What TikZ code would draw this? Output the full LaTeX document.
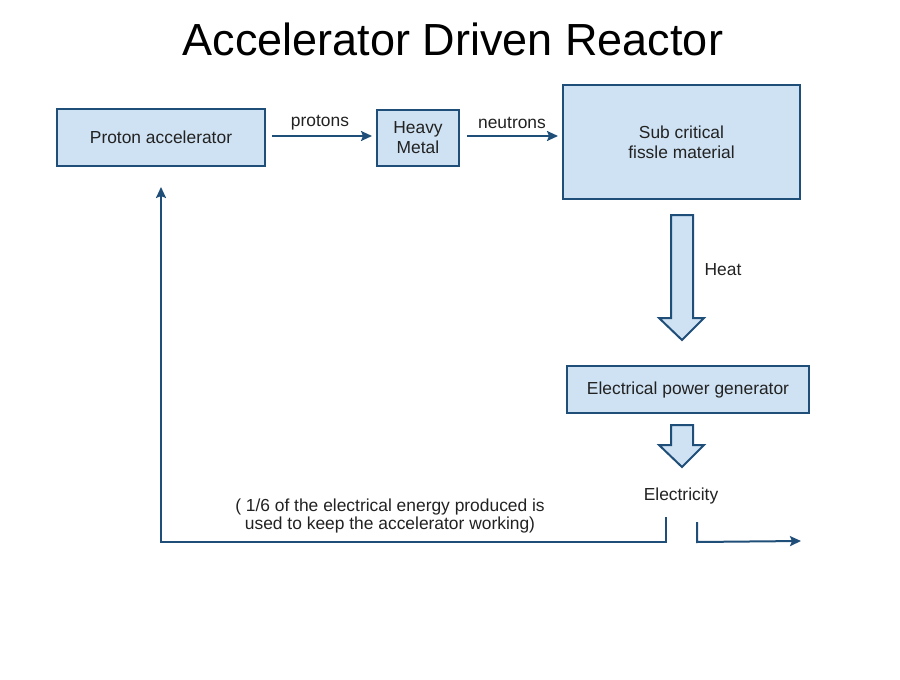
\documentclass[tikz,border=0pt]{standalone}
\usepackage{fontspec}
\setmainfont{Liberation Sans}
\usetikzlibrary{arrows.meta}
\definecolor{boxfill}{HTML}{CFE2F3}
\definecolor{boxline}{HTML}{1F4E79}
\definecolor{txt}{HTML}{222222}
\tikzset{
  box/.style={draw=boxline, fill=boxfill, line width=2pt, rectangle, inner sep=0pt, align=center, text=txt, font=\fontsize{17.4}{20}\selectfont},
  lbl/.style={text=txt, font=\fontsize{17.4}{18}\selectfont, align=center, inner sep=0pt},
  conn/.style={draw=boxline, line width=2pt, -{Stealth[length=11pt,width=10pt,inset=2pt]}},
  blockarrow/.style={draw=boxline, fill=boxfill, line width=2pt, line join=miter}
}
\begin{document}
\begin{tikzpicture}[x=1pt,y=-1pt]
\useasboundingbox (0,0) rectangle (900,680);
\fill[white] (0,0) rectangle (900,680);
\node[text=black, font=\fontsize{45}{50}\selectfont, inner sep=0pt] (title) at (453,39) {Accelerator Driven Reactor};
\node[box, minimum width=208pt, minimum height=57pt] (prot) at (161,137.5) {Proton accelerator};
\node[box, minimum width=82pt, minimum height=56pt] (heavy) at (418,138) {Heavy\\Metal};
\node[box, minimum width=237pt, minimum height=114pt] (sub) at (681.5,142) {Sub critical\\fissle material};
\node[box, minimum width=242pt, minimum height=47pt] (gen) at (688,389.5) {Electrical power generator};
\draw[conn, shorten <=6pt, shorten >=4pt] (prot.east |- 0,136) -- (heavy.west |- 0,136);
\node[lbl] (protlbl) at (320,123) {protons};
\draw[conn, shorten <=7pt, shorten >=4pt] (heavy.east |- 0,136) -- (sub.west |- 0,136);
\node[lbl] (neutlbl) at (512,123) {neutrons};
% block arrows
\draw[blockarrow] (671,215) -- (693,215) -- (693,318) -- (704,318) -- (682,340) -- (659,318) -- (671,318) -- cycle;
\node[lbl] (heat) at (723,270) {Heat};
\draw[blockarrow] (671,425) -- (693,425) -- (693,445) -- (704,445) -- (682,467) -- (659,445) -- (671,445) -- cycle;
\node[lbl] (elec) at (681,496) {Electricity};
% feedback
\coordinate (fbstart) at (666,517);
\coordinate (fbcorner) at (666,542);
\coordinate (fbleft) at (161,542);
\draw[conn, shorten >=20pt] (fbstart) -- (fbcorner) -- (fbleft) -- (prot.south);
\coordinate (outstart) at (697,522);
\coordinate (outcorner) at (697,542);
\coordinate (outend) at (801,541);
\draw[conn] (outstart) -- (outcorner) -- (outend);
\node[lbl] (note) at (390,516) {( 1/6 of the electrical energy produced is\\used to keep the accelerator working)};
\end{tikzpicture}
\end{document}
